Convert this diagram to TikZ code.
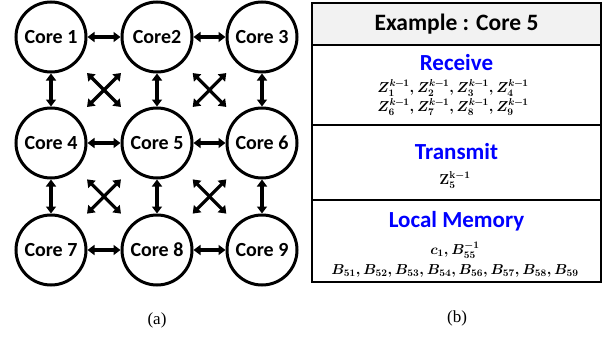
\documentclass[tikz,border=0pt]{standalone}
\usepackage{amsmath,amssymb}
\usepackage{fontspec}
\setsansfont{Carlito}
\newfontfamily\capfont{Liberation Serif}
\usetikzlibrary{arrows.meta, positioning, calc}
\newcommand{\zterm}[1]{Z_{#1}^{k\mkern-1mu-\mkern-1mu1}}

\begin{document}
\begin{tikzpicture}[x=1pt, y=-1pt,
    core/.style={circle, draw, line width=3pt, minimum size=70pt, inner sep=0pt, font=\sffamily\bfseries\fontsize{20}{24}\selectfont},
    link/.style={{Triangle[length=7pt,width=10pt]}-{Triangle[length=7pt,width=10pt]}, line width=3.2pt},
    cell/.style={draw, line width=1.4pt, minimum width=289pt, inner sep=0pt, outer sep=0pt},
    title/.style={text=blue, font=\sffamily\bfseries\fontsize{23}{26}\selectfont},
    eq/.style={font=\fontsize{14.4}{17}\selectfont\boldmath},
    caption/.style={font=\capfont\fontsize{17}{20}\selectfont}]
    \useasboundingbox (0,0) rectangle (607,337);

    % Cores of the mesh
    \foreach \n/\x/\y/\txt in {1/51/37/Core 1, 2/157/37/Core2, 3/262/37/Core 3,
                               4/51/143/Core 4, 5/157/143/Core 5, 6/262/143/Core 6,
                               7/51/250/Core 7, 8/157/250/Core 8, 9/262/250/Core 9}
      \node[core] (c\n) at (\x,\y) {\txt};

    % Links between neighbours
    \foreach \a/\b in {1/2, 2/3, 4/5, 5/6, 7/8, 8/9, 1/4, 4/7, 2/5, 5/8, 3/6, 6/9}
      \draw[link] (c\a) -- (c\b);

    % Diagonal crosses
    \foreach \p/\q/\r/\s in {1/2/4/5, 2/3/5/6, 4/5/7/8, 5/6/8/9} {
      \draw[link] ($(c\p)!0.34!(c\s)$) -- ($(c\p)!0.66!(c\s)$);
      \draw[link] ($(c\q)!0.34!(c\r)$) -- ($(c\q)!0.66!(c\r)$);
    }

    % Table for core 5
    \node[cell, fill=gray!10, minimum height=42pt, font=\sffamily\bfseries\fontsize{23.5}{26}\selectfont] (head) at (456.5,24) {Example : Core 5};
    \node[cell, minimum height=80pt, below=0pt of head] (recv) {};
    \node[cell, minimum height=75pt, below=0pt of recv] (trans) {};
    \node[cell, minimum height=82pt, below=0pt of trans] (mem) {};

    % Receive
    \node[title] (recvT) at (456.5,63) {Receive};
    \node[eq] (recvA) at (453,88) {$\zterm{1}{,}\,\zterm{2}{,}\,\zterm{3}{,}\,\zterm{4}$};
    \node[eq] (recvB) at (453,107) {$\zterm{6}{,}\,\zterm{7}{,}\,\zterm{8}{,}\,\zterm{9}$};

    % Transmit
    \node[title] (transT) at (456.5,152) {Transmit};
    \node[eq] (transA) at (455,180) {$\mathbf{Z}_{\mathbf{5}}^{\mathbf{k-1}}$};

    % Local memory
    \node[title] (memT) at (456.5,221) {Local Memory};
    \node[eq] (memA) at (455,250) {$c_1, B_{55}^{-1}$};
    \node[eq] (memB) at (455,271) {$B_{51}, B_{52}, B_{53}, B_{54}, B_{56}, B_{57}, B_{58}, B_{59}$};

    % Captions
    \node[caption] (capA) at (157,320) {(a)};
    \node[caption] (capB) at (457,318) {(b)};
\end{tikzpicture}
\end{document}
